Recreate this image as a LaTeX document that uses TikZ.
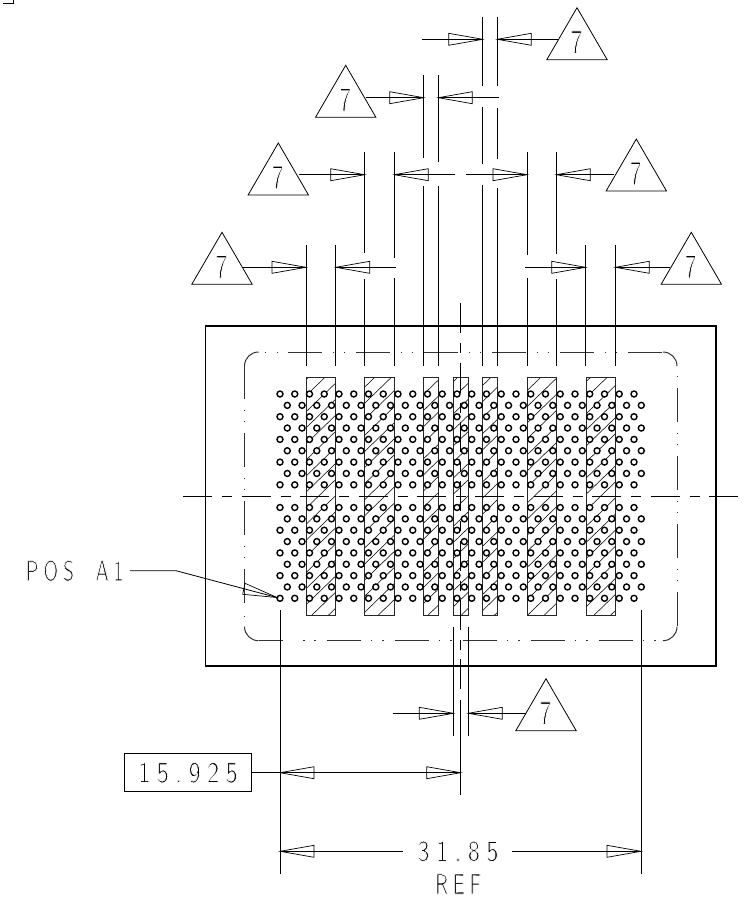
\documentclass[tikz,border=0pt]{standalone}
\usepackage{fontspec}
\newfontfamily\caddig[Extension=.otf,FakeStretch=0.87,LetterSpace=21]{lmsans17-regular}
\newfontfamily\cadlet[Extension=.otf,FakeStretch=0.74,LetterSpace=16]{lmsans17-regular}
\newfontfamily\cadseven[Extension=.otf,FakeStretch=0.72]{lmsans17-regular}
% thin the strokes of the lettering: glyphs keep their fill, a white outline trims them
\newcommand{\thinned}[1]{\special{pdf:code q 2 Tr 0.75 w 1 1 1 RG}#1\special{pdf:code Q}}
\tikzset{
  x=1pt,y=-1pt,
  ln/.style={line width=0.8pt,black},
  thin gray/.style={line width=1pt,black!80},
  outerbox/.style={line width=1.2pt,black},
  head/.style={line width=0.7pt,black,line join=miter},
  bar/.style={line width=0.9pt,black!85},
  hatchline/.style={line width=0.55pt,black},
  pad/.style={line width=1.4pt,black,fill=white},
  lbl/.style={inner sep=0pt,outer sep=0pt,font=\caddig\fontsize{30}{30}\selectfont},
  let/.style={inner sep=0pt,outer sep=0pt,font=\cadlet\fontsize{29}{29}\selectfont},
  seven/.style={inner sep=0pt,outer sep=0pt,font=\cadseven\fontsize{34}{34}\selectfont},
  boxed/.style={draw,line width=0.8pt,inner sep=0pt,outer sep=0pt,minimum width=127.4pt,minimum height=38pt},
  phantomline/.style={line width=1pt,black!80,dash pattern=on 34pt off 10.5pt on 1.2pt off 10pt on 1.2pt off 11.1pt},
  centerh/.style={line width=0.8pt,black,dash pattern=on 29pt off 10pt on 10pt off 9.4pt},
  centerv/.style={line width=0.8pt,black,dash pattern=on 30pt off 10pt on 10pt off 9.3pt},
}
% arrowhead: tip x, y, direction (+1 tip points right, -1 tip points left)
\newcommand{\hd}[3]{\draw[head] (#1,#2) -- ({#1-#3*34},#2-6) -- ({#1-#3*34},#2+6) -- cycle;}
% triangle symbol: name, apex x, apex y; the 7 is a named node
\newcommand{\symb}[3]{%
  \draw[ln] (#2,#3) -- ({#2-30.2},{#3+52}) -- ({#2+30.2},{#3+52}) -- cycle;
  \node[seven] (#1) at ({#2-0.5},{#3+34.5}) {\thinned{7}};}
\begin{document}
\begin{tikzpicture}
\useasboundingbox (0,0) rectangle (746,898);
\fill[white] (0,0) rectangle (746,898);
% corner mark
\draw[line width=1pt] (3,3) -- (13,3) -- (13,0);
% hatched bars
\foreach \xa/\xb in {306/335.7,364.7/394.3,423.7/438.5,453.3/468,482.7/497.5,527/556.3,586/615.5}{
  \begin{scope}
    \clip (\xa,377.3) rectangle (\xb,615.3);
    \foreach \k in {-16,...,36}{
      \draw[hatchline] ({311.7+16.6*\k},615.3) -- ({311.7+16.6*\k+245.7},377.3);
    }
  \end{scope}
  \draw[bar] (\xa,377.3) rectangle (\xb,615.3);
}
% pads
\foreach \r in {0,...,18}{
  \ifnum\r=9\relax\else
    \pgfmathsetmacro{\yy}{394+11.35*\r}
    \pgfmathsetmacro{\xs}{mod(\r,2)==0 ? 280 : 287.3}
    \foreach \c in {0,...,24}{
      \draw[pad] ({\xs+14.75*\c},\yy) circle[radius=3pt];
    }
  \fi
}
% package outline
\draw[outerbox] (205.5,326) rectangle (716,666);
% phantom outline
\draw[thin gray] (244.5,366) arc[start angle=180,end angle=90,radius=14pt];
\draw[thin gray] (663,352) arc[start angle=90,end angle=0,radius=14pt];
\draw[thin gray] (258.5,640.7) arc[start angle=270,end angle=180,radius=14pt];
\draw[thin gray] (663,640.7) arc[start angle=270,end angle=360,radius=14pt];
\draw[phantomline] (288,352) -- (663,352);
\draw[phantomline] (326.7,640.7) -- (663,640.7);
\draw[phantomline] (244.5,365) -- (244.5,605);
\draw[phantomline] (677,388) -- (677,627);
\draw[thin gray] (265.2,352) -- (266.4,352) (276.7,352) -- (277.9,352);
\draw[thin gray] (258.5,640.7) -- (283.3,640.7);
\draw[thin gray] (303.4,640.7) -- (304.6,640.7) (314.4,640.7) -- (315.6,640.7);
\draw[thin gray] (244.5,616) -- (244.5,617.2);
\draw[thin gray] (677,376) -- (677,377.2);
% centre lines
\draw[centerh] (183.3,496.3) -- (740,496.3);
\draw[centerv] (460.7,303.3) -- (460.7,689);
\draw[ln] (460.7,700) -- (460.7,795);
% extension lines, level 4
\draw[ln] (306,245) -- (306,365.7);
\draw[ln] (335.7,245) -- (335.7,365.7);
\draw[ln] (585.7,245) -- (585.7,365.7);
\draw[ln] (615.3,245) -- (615.3,365.7);
% level 3
\draw[ln] (364.7,152) -- (364.7,252.7) (364.7,279.3) -- (364.7,365.7);
\draw[ln] (394.3,152) -- (394.3,258.3) (394.3,278) -- (394.3,365.7);
\draw[ln] (527,152) -- (527,255) (527,278) -- (527,365.7);
\draw[ln] (556.3,152) -- (556.3,254) (556.3,279) -- (556.3,365.7);
% level 2
\draw[ln] (423.7,75) -- (423.7,158) (423.7,186.3) -- (423.7,365.7);
\draw[ln] (438.3,75) -- (438.3,161.7) (438.3,186.3) -- (438.3,365.7);
% level 1
\draw[ln] (482.7,17) -- (482.7,85.7) (482.7,106.7) -- (482.7,163.7) (482.7,185.3) -- (482.7,365.7);
\draw[ln] (497.3,17) -- (497.3,85.7) (497.3,107.7) -- (497.3,158.7) (497.3,188) -- (497.3,365.7);
% bottom extensions
\draw[ln] (453.3,626.7) -- (453.3,735.7);
\draw[ln] (468.3,626.7) -- (468.3,735.7);
\draw[ln] (280,610) -- (280,874);
\draw[ln] (641,610) -- (641,874);
% symbols
\symb{s1}{577}{7.7}
\symb{s2}{345.7}{65.3}
\symb{s3}{278.3}{143}
\symb{s4}{636.3}{139}
\symb{s5}{222}{232.3}
\symb{s6}{691.3}{232.3}
\symb{s7}{546}{678.7}
% row y=39.3
\coordinate (a1) at (422.3,39.3);
\coordinate (e1) at (558,39.3);
\draw[ln] (a1) -- (482.7,39.3);
\draw[ln] (497.3,39.3) -- (e1);
\hd{482.7}{39.3}{1}\hd{497.3}{39.3}{-1}
% row y=97.7
\coordinate (e2) at (365.7,97.7);
\coordinate (a2) at (499,97.7);
\draw[ln] (e2) -- (423.7,97.7);
\draw[ln] (438.3,97.7) -- (a2);
\hd{423.7}{97.7}{1}\hd{438.3}{97.7}{-1}
% row y=174.7
\coordinate (e3) at (299.3,174.7);
\coordinate (e4) at (614,174.7);
\draw[ln] (e3) -- (364.7,174.7);
\draw[ln] (394.3,174.7) -- (455,174.7);
\draw[ln] (466,174.7) -- (527,174.7);
\draw[ln] (556.3,174.7) -- (e4);
\hd{364.7}{174.7}{1}\hd{394.3}{174.7}{-1}\hd{527}{174.7}{1}\hd{556.3}{174.7}{-1}
% row y=267.3
\coordinate (e5) at (243.3,267.3);
\coordinate (e6) at (670,267.3);
\draw[ln] (e5) -- (306,267.3);
\draw[ln] (335.7,267.3) -- (396,267.3);
\draw[ln] (525.3,267.3) -- (585.7,267.3);
\draw[ln] (615.3,267.3) -- (e6);
\hd{306}{267.3}{1}\hd{335.7}{267.3}{-1}\hd{585.7}{267.3}{1}\hd{615.3}{267.3}{-1}
% row y=713.3
\coordinate (e7) at (525.7,713.3);
\draw[ln] (393,713.3) -- (453.3,713.3);
\draw[ln] (468.3,713.3) -- (e7);
\hd{453.3}{713.3}{1}\hd{468.3}{713.3}{-1}
% 15.925 dimension
\node[boxed,anchor=center,lbl] (val) at (188,772.7) {\thinned{15.925}};
\draw[ln] (val.east) -- (460.7,772.7);
\hd{280}{772.7}{-1}\hd{460.7}{772.7}{1}
% 31.85 dimension
\node[lbl] (dim) at (458,851.3) {\thinned{31.85}};
\node[let] (ref) at (458,884) {\thinned{REF}};
\draw[ln] (280,851.3) -- (402.7,851.3);
\draw[ln] (511.7,851.3) -- (641,851.3);
\hd{280}{851.3}{-1}\hd{641}{851.3}{1}
% POS A1 leader
\node[let] (pos) at (74.7,570.7) {\thinned{POS\hspace{10pt} A1}};
\coordinate (pk) at (176,570.7);
\coordinate (pt) at (277,597.5);
\draw[ln] (130,570.7) -- (pk) -- (pt);
\draw[head] (pt) -- (245,583.3) -- (242.7,594.3) -- cycle;
\end{tikzpicture}
\end{document}
